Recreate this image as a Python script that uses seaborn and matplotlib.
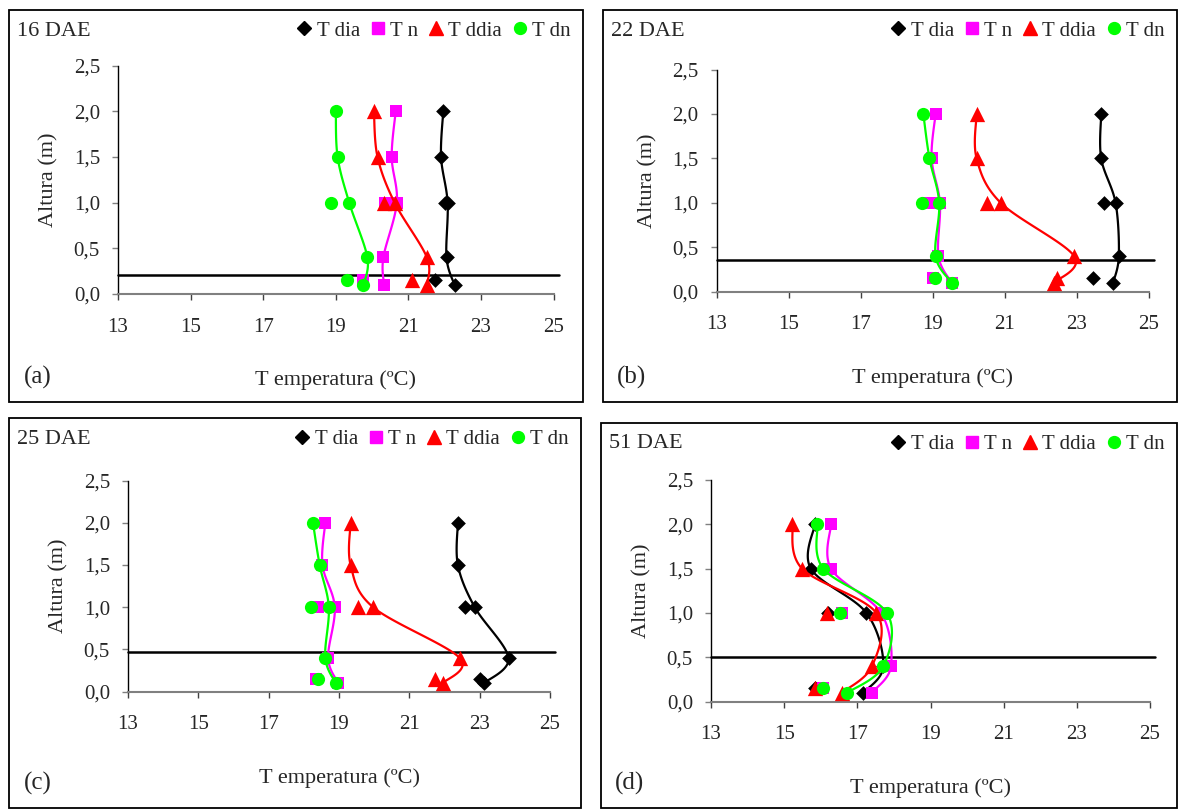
import numpy as np
import matplotlib
matplotlib.use("Agg")
import matplotlib.pyplot as plt
import seaborn as sns
from matplotlib.patches import Rectangle
from matplotlib.lines import Line2D

# %% Data
# heights (m) of the smoothed profile and of the two loose points
h_line = [2.0, 1.5, 1.0, 0.4, 0.1]
h_extra = [1.0, 0.15]

series = ["T dia", "T n", "T ddia", "T dn"]
colors = ["#000000", "#FF00FF", "#FF0000", "#00FF00"]
markers = ["D", "s", "^", "o"]
msizes = [7.5, 9.0, 11.0, 9.5]

# temperature profiles (oC), order: T dia, T n, T ddia, T dn
line_16 = [[21.96, 21.90, 22.08, 22.05, 22.27],
           [20.65, 20.54, 20.68, 20.31, 20.33],
           [20.05, 20.15, 20.62, 21.51, 21.51],
           [19.00, 19.05, 19.37, 19.87, 19.76]]
extra_16 = [[22.00, 21.74], [20.36, 19.74], [20.34, 21.11], [18.86, 19.32]]

line_22 = [[23.68, 23.68, 24.08, 24.17, 24.01],
           [19.08, 18.97, 19.20, 19.16, 19.53],
           [20.22, 20.22, 20.89, 22.93, 22.37],
           [18.74, 18.91, 19.18, 19.08, 19.53]]
extra_22 = [[23.77, 23.46], [18.88, 19.02], [20.50, 22.44], [18.69, 19.06]]

line_25 = [[22.38, 22.38, 22.86, 23.82, 23.12],
           [18.61, 18.53, 18.88, 18.69, 18.98],
           [19.33, 19.33, 19.97, 22.43, 21.95],
           [18.26, 18.45, 18.71, 18.61, 18.91]]
extra_25 = [[22.59, 23.00], [18.40, 18.36], [19.55, 21.73], [18.21, 18.40]]

line_51 = [[15.84, 15.73, 17.25, 17.71, 17.16],
           [16.28, 16.28, 17.65, 17.92, 17.39],
           [15.22, 15.49, 17.52, 17.40, 16.57],
           [15.91, 16.07, 17.81, 17.71, 16.72]]
extra_51 = [[16.20, 15.84], [16.57, 16.07], [16.16, 15.84], [16.52, 16.07]]

ref_height = [0.21, 0.36, 0.47, 0.50]
titles = ["16 DAE", "22 DAE", "25 DAE", "51 DAE"]
letters = ["(a)", "(b)", "(c)", "(d)"]

x_ticks = [13, 15, 17, 19, 21, 23, 25]
y_ticks = [0.0, 0.5, 1.0, 1.5, 2.0, 2.5]
y_ticklabels = ["0,0", "0,5", "1,0", "1,5", "2,0", "2,5"]

# %% Layout in pixels: box (l, r, t, b) and axes (l, r, top, bottom)
W, H = 1182, 810
boxes = [(9, 583, 10, 402), (603, 1177, 10, 402),
         (9, 581, 418, 808), (601, 1177, 423, 808)]
axes_px = [(118, 553.6, 65.7, 294), (716.7, 1148.7, 69.6, 291.7),
           (128, 550, 480.5, 691.7), (711, 1150, 480, 701.7)]


def frac(l, r, t, b):
    return [l / W, 1 - b / H, (r - l) / W, (b - t) / H]


def smooth(ax, xs, ys, n=30):
    # Excel-style smoothed line, built in display space
    P = ax.transData.transform(np.column_stack([xs, ys]))
    pts = []
    m = len(P)
    for i in range(m - 1):
        p0 = P[max(i - 1, 0)]
        p1, p2 = P[i], P[i + 1]
        p3 = P[min(i + 2, m - 1)]
        c1 = p1 + (p2 - p0) / 6
        c2 = p2 - (p3 - p1) / 6
        t = np.linspace(0, 1, n)[:, None]
        seg = ((1 - t) ** 3) * p1 + 3 * ((1 - t) ** 2) * t * c1 \
            + 3 * (1 - t) * t ** 2 * c2 + t ** 3 * p2
        pts.append(seg if i == 0 else seg[1:])
    pts = ax.transData.inverted().transform(np.vstack(pts))
    return pts[:, 0], pts[:, 1]


sns.set_style("ticks")
plt.rcParams['font.family'] = ['Liberation Serif', 'DejaVu Serif']
fs = 15

fig = plt.figure(figsize=(W / 100, H / 100), dpi=100)
fig.patch.set_facecolor("white")

all_lines = [line_16, line_22, line_25, line_51]
all_extra = [extra_16, extra_22, extra_25, extra_51]

for k in range(4):
    bl, br, bt, bb = boxes[k]
    fig.add_artist(Rectangle((bl / W, 1 - bb / H), (br - bl) / W, (bb - bt) / H,
                             transform=fig.transFigure, fill=False,
                             lw=1.3, ec="black"))
    al, ar, at, ab = axes_px[k]
    ax = fig.add_axes(frac(al, ar, at, ab))
    ax.set_facecolor("white")
    ax.set_xlim(13, 25)
    ax.set_ylim(0, 2.5)

    for j in range(4):
        cx, cy = smooth(ax, all_lines[k][j], h_line)
        sns.lineplot(x=cx, y=cy, sort=False, estimator=None, color=colors[j],
                     lw=1.6, ax=ax, legend=False, zorder=3 + j)
        px = list(all_lines[k][j]) + list(all_extra[k][j])
        py = h_line + h_extra
        sns.scatterplot(x=px, y=py, marker=markers[j], color=colors[j],
                        s=msizes[j] ** 2, linewidth=0, ax=ax, legend=False,
                        zorder=3.5 + j, clip_on=False)

    ax.axhline(ref_height[k], xmax=1.012, color="black", lw=1.8, zorder=2,
               clip_on=False)

    sns.despine(ax=ax)
    ax.spines["left"].set_color("black")
    ax.spines["bottom"].set_color("#808080")
    ax.spines["left"].set_linewidth(1.0)
    ax.spines["bottom"].set_linewidth(1.5)
    ax.set_xticks(x_ticks)
    ax.set_xticklabels([str(v) for v in x_ticks])
    ax.set_yticks(y_ticks)
    ax.set_yticklabels(y_ticklabels)
    ax.tick_params(axis="x", direction="out", length=4, width=1,
                   color="#404040", pad=13, labelsize=fs)
    ax.tick_params(axis="y", direction="out", length=4, width=1,
                   color="#808080", pad=9, labelsize=fs)

    ax.set_xlabel("T emperatura (ºC)", fontsize=fs + 1, va="center")
    ax.xaxis.set_label_coords((al + ar) / 2 / W, 1 - (ab + 86) / H,
                              transform=fig.transFigure)
    ax.set_ylabel("Altura (m)", fontsize=fs + 1, va="center")
    ax.yaxis.set_label_coords((al - 69) / W, 1 - (at + ab) / 2 / H,
                              transform=fig.transFigure)

    fig.text((bl + 8) / W, 1 - (bt + 21) / H, titles[k], fontsize=fs + 1,
             ha="left", va="center")
    fig.text((bl + 29) / W, 1 - (bb - 25) / H, letters[k], fontsize=fs + 3,
             ha="center", va="center")

    handles = [Line2D([], [], ls="none", marker=markers[j], color=colors[j],
                      markersize=msizes[j] * 0.9) for j in range(4)]
    ax.legend(handles, series, ncol=4, frameon=False, fontsize=fs,
              loc="center right", bbox_to_anchor=((br - 12) / W, 1 - (bt + 21) / H),
              bbox_transform=fig.transFigure, handlelength=0.7,
              handletextpad=0.25, columnspacing=0.5, borderpad=0,
              borderaxespad=0)

fig.savefig("out.png", dpi=100, facecolor="white")
